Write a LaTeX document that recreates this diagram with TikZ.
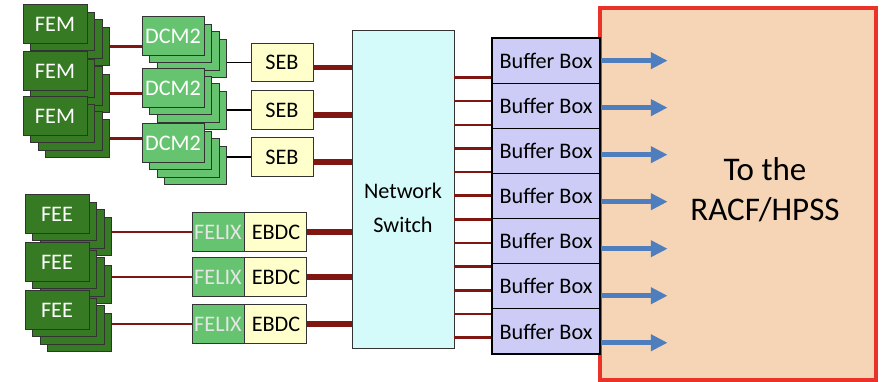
\documentclass[tikz,border=0pt]{standalone}
\usepackage{fontspec}
\setmainfont{Carlito}
\usetikzlibrary{arrows.meta,positioning,calc}
\definecolor{femgreen}{RGB}{54,122,36}
\definecolor{dcmgreen}{RGB}{102,196,112}
\definecolor{sebyellow}{RGB}{255,255,204}
\definecolor{swcyan}{RGB}{212,250,250}
\definecolor{bufblue}{RGB}{204,204,246}
\definecolor{racfpeach}{RGB}{245,213,181}
\definecolor{racfred}{RGB}{234,50,40}
\definecolor{wire}{RGB}{128,22,18}
\definecolor{arrblue}{RGB}{79,126,190}

\begin{document}
\begin{tikzpicture}[x=0.25mm, y=-0.25mm, font=\fontsize{15.8}{18}\selectfont,
  box/.style={draw=black!80, line width=0.7pt, minimum height=9.6mm, inner sep=0pt, align=center},
  fem/.style={box, fill=femgreen, text=white, minimum width=16mm},
  dcm/.style={box, fill=dcmgreen, text=white, minimum width=15.5mm},
  seb/.style={box, fill=sebyellow, minimum width=15.5mm},
  felix/.style={box, fill=dcmgreen, text=white!90!black, minimum width=13mm},
  ebdc/.style={box, fill=sebyellow, minimum width=15.5mm},
  buf/.style={box, draw=black, line width=0.8pt, fill=bufblue, minimum width=27mm, minimum height=11.29mm},
  link/.style={draw=wire, line width=1.8pt},
  trunk/.style={draw=wire, line width=3.6pt},
  ctrl/.style={draw=black, line width=1.1pt},
  ship/.style={draw=arrblue, line width=3.4pt, -{Triangle[length=4.2mm, width=4mm]}}]
\useasboundingbox (0,0) rectangle (887,382);

% FEM stacks, back layers first
\foreach \n/\y in {1/24, 2/71, 3/116} {
  \foreach \k in {3,2,1}
    \node[fem] (fem\n-\k) at (55+7.5*\k, \y+7.5*\k) {};
  \node[fem] (fem\n) at (55,\y) {FEM};
}
% DCM2 stacks
\foreach \n/\y in {1/36, 2/88, 3/143} {
  \foreach \k in {3,2,1}
    \node[dcm] (dcm\n-\k) at (173+7.5*\k, \y+7.5*\k) {};
  \node[dcm] (dcm\n) at (173,\y) {DCM2};
}
% FEE stacks
\foreach \n/\y in {1/214, 2/262, 3/310} {
  \foreach \k in {3,2,1}
    \node[fem] (fee\n-\k) at (57+7.5*\k, \y+7.5*\k) {};
  \node[fem] (fee\n) at (57,\y) {FEE};
}

% SEBs and FELIX/EBDC pairs
\foreach \n/\y in {1/62.5, 2/110, 3/157}
  \node[seb] (seb\n) at (282,\y) {SEB};
\foreach \n/\y in {1/232, 2/277, 3/324} {
  \node[felix] (felix\n) at (218,\y) {FELIX};
  \node[ebdc, right=0pt of felix\n] (ebdc\n) {EBDC};
}

% network switch
\node[box, fill=swcyan, minimum width=25.5mm, minimum height=79.5mm] (sw) at (403,189) {};
\node[align=center, font=\fontsize{15.8}{24}\selectfont] (swtxt) at ($(sw.center)+(0,19)$) {Network\\Switch};

% destination and buffer boxes
\node[draw=racfred, line width=2.3pt, fill=racfpeach, minimum width=69mm, minimum height=93mm, inner sep=0pt] (racf) at (738,194) {};
\node[align=center, font=\fontsize{23.5}{28.4}\selectfont] (dest) at (765,190) {To the\\RACF/HPSS};
\foreach \i in {1,...,7}
  \node[buf] (bb\i) at (546,15.5+45.14*\i) {Buffer Box};

% connections
\foreach \n in {1,2,3} {
  \draw[link] (fem\n-3.east) -- (fem\n-3.east -| dcm\n.west);
  \draw[ctrl] (seb\n.west) -- (seb\n.west -| dcm\n-3.east);
  \draw[trunk] ([yshift=-1.25mm]seb\n.east) -- ([yshift=-1.25mm]seb\n.east -| sw.west);
  \draw[link] (felix\n.west) -- (felix\n.west -| fee\n-3.east);
  \draw[trunk] (ebdc\n.east) -- (ebdc\n.east -| sw.west);
}
\foreach \i in {0,...,11} {
  \path (sw.north east) ++(0,48+23.64*\i) coordinate (p\i);
  \draw[link] (p\i) -- (p\i -| bb1.west);
}
\foreach \i in {1,...,7}
  \draw[ship] ([yshift={-0.47mm*(\i-1)}]bb\i.east) -- ++(67,0);
\end{tikzpicture}
\end{document}
